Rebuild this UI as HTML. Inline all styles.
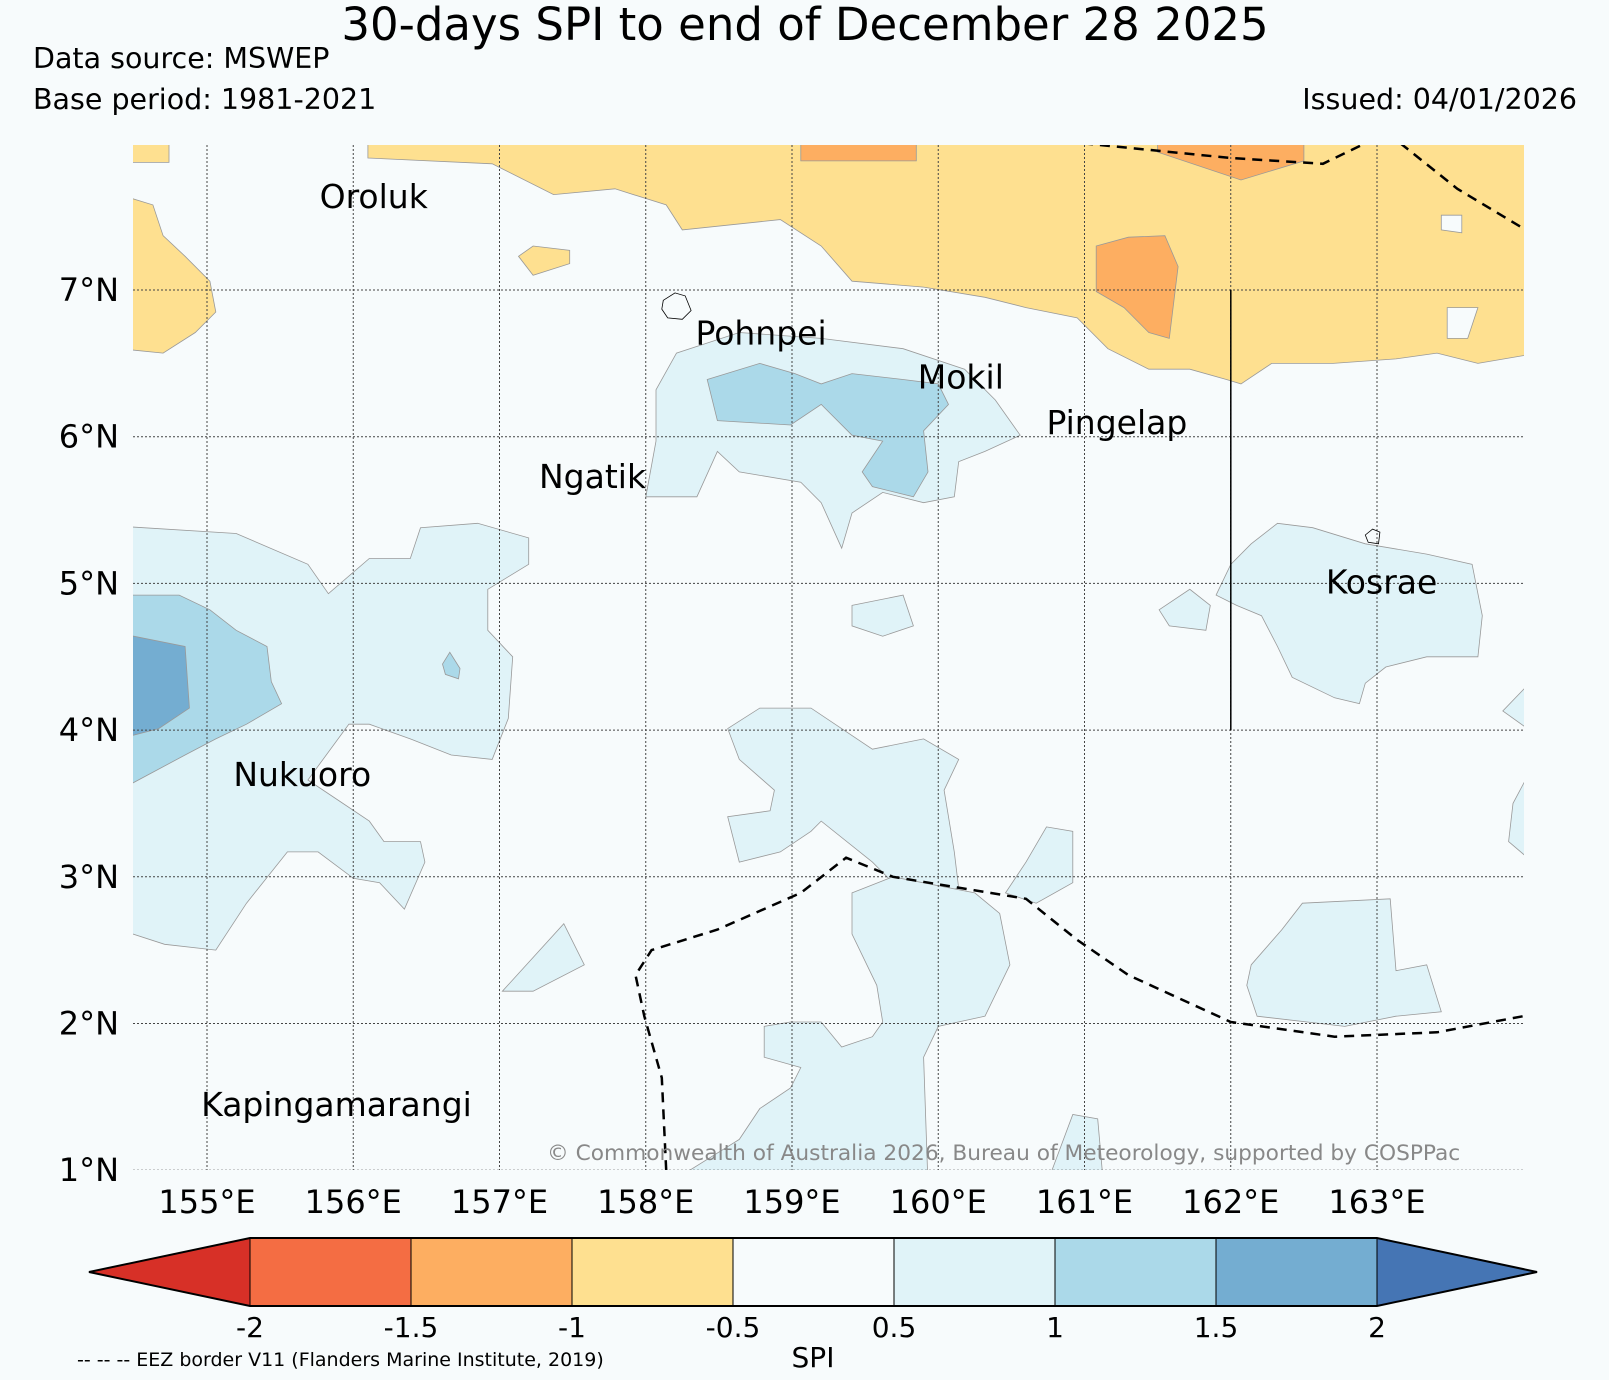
<!DOCTYPE html>
<html><head><meta charset="utf-8"><style>
body{margin:0;background:#f7fbfc;}
svg{display:block;font-family:"DejaVu Sans","Liberation Sans",sans-serif;}
</style></head><body>
<svg id="chart" width="1609" height="1380" viewBox="0 0 1609 1380" xmlns="http://www.w3.org/2000/svg">
<rect width="1609" height="1380" fill="#f7fbfc"/>
<text x="805" y="40" font-size="45" text-anchor="middle">30-days SPI to end of December 28 2025</text>
<text x="33" y="68" font-size="28.5">Data source: MSWEP</text>
<text x="33" y="109" font-size="28.5">Base period: 1981-2021</text>
<text x="1577" y="109" font-size="28.5" text-anchor="end">Issued: 04/01/2026</text>
<defs><clipPath id="mapclip"><rect x="133" y="145" width="1391" height="1025"/></clipPath></defs>
<g id="map" clip-path="url(#mapclip)"></g>
<g id="axes"></g>
<g id="cbar"></g>
<text x="547" y="1160" font-size="21.7" fill="#888">© Commonwealth of Australia 2026, Bureau of Meteorology, supported by COSPPac</text>
<text x="813" y="1367" font-size="28" text-anchor="middle">SPI</text>
<text x="77" y="1366" font-size="19">-- -- -- EEZ border V11 (Flanders Marine Institute, 2019)</text>
</svg>
<script>
const lonTicks=[155,156,157,158,159,160,161,162,163];
const latTicks=[1,2,3,4,5,6,7];
const levels=[-2,-1.5,-1,-0.5,0.5,1,1.5,2];
const levelLabels=["-2","-1.5","-1","-0.5","0.5","1","1.5","2"];
const levelColors=["#d73027","#f46d43","#fdae61","#fee090","#f7fbfc","#e0f3f8","#abd9e9","#74add1","#4575b4"];

const yellowMain=[[156.1,8],[156.1,7.9],[156.95,7.86],[157.37,7.65],[157.79,7.69],[158.14,7.58],[158.25,7.41],[158.92,7.48],[159.2,7.3],[159.41,7.06],[159.9,7.02],[160.32,6.95],[160.6,6.88],[160.95,6.81],[161.16,6.6],[161.44,6.46],[161.72,6.46],[161.97,6.39],[162.07,6.36],[162.28,6.5],[162.7,6.5],[163.13,6.53],[163.41,6.57],[163.69,6.5],[164.1,6.57],[164.1,8.1],[156.1,8.1]];
const yellowLeft=[[154.4,7.65],[154.63,7.58],[154.7,7.37],[154.85,7.23],[155.02,7.06],[155.06,6.85],[154.92,6.71],[154.7,6.57],[154.4,6.6]];
const yellowStrip=[[154.4,8.1],[154.74,8.1],[154.74,7.87],[154.4,7.87]];
const yellowSmall=[[157.13,7.23],[157.23,7.3],[157.48,7.27],[157.48,7.18],[157.23,7.1]];
const orangePatch=[[161.08,7.3],[161.3,7.36],[161.55,7.37],[161.64,7.16],[161.58,6.67],[161.44,6.71],[161.27,6.88],[161.08,6.99]];
const orangeTop1=[[159.06,8.1],[159.85,8.1],[159.85,7.88],[159.06,7.88]];
const orangeTop2=[[161.5,8.1],[162.5,8.1],[162.5,7.88],[162.07,7.75],[161.5,7.94]];
const hole1=[[163.44,7.51],[163.58,7.51],[163.58,7.39],[163.44,7.41]];
const hole2=[[163.48,6.88],[163.69,6.88],[163.62,6.67],[163.48,6.67]];
const pohnpeiLight=[[158.07,6.32],[158.21,6.57],[158.64,6.71],[159.2,6.67],[159.76,6.6],[160.18,6.46],[160.39,6.25],[160.56,6.01],[160.32,5.9],[160.14,5.83],[160.11,5.59],[159.9,5.55],[159.62,5.62],[159.41,5.48],[159.34,5.24],[159.2,5.55],[159.06,5.69],[158.64,5.76],[158.49,5.9],[158.35,5.59],[158.0,5.59],[158.07,5.97]];
const pohnpeiMed=[[158.42,6.39],[158.78,6.5],[159.02,6.43],[159.2,6.36],[159.41,6.43],[159.76,6.39],[160.0,6.36],[160.07,6.22],[159.9,6.04],[159.93,5.76],[159.83,5.59],[159.55,5.66],[159.48,5.76],[159.62,5.97],[159.41,6.01],[159.2,6.22],[158.99,6.08],[158.49,6.11]];
const leftLight=[[154.4,5.39],[155.2,5.34],[155.69,5.13],[155.83,4.93],[156.11,5.17],[156.39,5.17],[156.46,5.38],[156.85,5.41],[157.2,5.31],[157.2,5.13],[156.92,4.96],[156.92,4.68],[157.09,4.5],[157.06,4.08],[156.95,3.8],[156.67,3.83],[156.39,3.94],[156.11,4.04],[155.97,4.04],[155.69,3.66],[155.9,3.52],[156.11,3.38],[156.21,3.24],[156.46,3.24],[156.49,3.1],[156.35,2.78],[156.18,2.96],[156.0,2.99],[155.76,3.17],[155.55,3.17],[155.27,2.82],[155.06,2.5],[154.71,2.54],[154.4,2.64]];
const leftMed=[[154.4,4.92],[154.81,4.92],[155.02,4.82],[155.2,4.68],[155.41,4.57],[155.44,4.33],[155.51,4.18],[155.27,4.04],[155.06,3.94],[154.85,3.83],[154.4,3.59]];
const leftDark=[[154.4,4.66],[154.85,4.57],[154.88,4.15],[154.67,4.01],[154.4,3.94]];
const smallMed=[[156.61,4.45],[156.66,4.53],[156.73,4.42],[156.72,4.35],[156.63,4.38]];
const centralUpper=[[158.56,4.01],[158.78,4.15],[159.13,4.15],[159.55,3.87],[159.9,3.94],[160.14,3.8],[160.04,3.59],[160.11,3.17],[160.14,2.92],[159.76,2.89],[159.55,3.1],[159.2,3.38],[159.13,3.31],[158.92,3.17],[158.64,3.1],[158.56,3.41],[158.85,3.45],[158.88,3.59],[158.64,3.8]];
const centralLower=[[159.41,2.89],[159.69,3.0],[160.25,2.89],[160.42,2.75],[160.49,2.4],[160.32,2.05],[160.0,1.98],[159.9,1.77],[159.93,0.9],[158.14,0.9],[158.64,1.21],[158.78,1.42],[158.99,1.56],[159.06,1.7],[158.81,1.77],[158.81,1.98],[158.99,2.01],[159.2,2.01],[159.34,1.84],[159.55,1.91],[159.62,2.01],[159.58,2.26],[159.41,2.61]];
const rightSmall=[[160.46,2.89],[160.6,3.1],[160.74,3.34],[160.92,3.31],[160.92,2.96],[160.67,2.82]];
const kosrae=[[161.9,4.92],[162,5.13],[162.14,5.27],[162.32,5.41],[162.56,5.38],[162.92,5.27],[163.34,5.2],[163.65,5.13],[163.72,4.78],[163.69,4.5],[163.34,4.5],[163.06,4.43],[162.92,4.32],[162.88,4.18],[162.71,4.22],[162.42,4.36],[162.32,4.57],[162.21,4.78],[162.04,4.85]];
const kosraeWest=[[161.51,4.82],[161.72,4.96],[161.86,4.85],[161.83,4.68],[161.58,4.71]];
const lowerRight=[[162.14,2.4],[162.35,2.64],[162.49,2.82],[163.09,2.85],[163.13,2.36],[163.34,2.4],[163.44,2.08],[163.13,2.05],[162.78,1.98],[162.18,2.05],[162.11,2.26]];
const edge1=[[164.1,4.38],[163.86,4.13],[164.1,3.96]];
const edge2=[[164.1,3.82],[163.93,3.5],[163.9,3.24],[164.1,3.07]];
const midSmall=[[159.41,4.85],[159.76,4.92],[159.83,4.71],[159.62,4.64],[159.41,4.71]];
const bitA=[[157.02,2.22],[157.44,2.68],[157.58,2.4],[157.23,2.22]];
const bitB=[[160.74,0.9],[160.92,1.38],[161.09,1.35],[161.13,0.9]];
const eezTop1=[[160.99,8],[162,7.9],[162.63,7.86],[162.92,8]];
const eezTop2=[[163.16,8],[163.55,7.69],[164,7.42]];
const eezBottom=[[158.14,1],[158.11,1.63],[157.99,2.05],[157.93,2.33],[158.04,2.5],[158.49,2.64],[159.06,2.89],[159.37,3.13],[159.69,3.0],[160.6,2.85],[160.95,2.57],[161.3,2.33],[162,2.01],[162.71,1.91],[163.41,1.94],[164,2.05]];
const boundaryLine=[[162,7],[162,4]];
const islands=[["Oroluk",155.77,7.56],["Pohnpei",158.34,6.63],["Mokil",159.86,6.33],["Pingelap",160.74,6.02],["Ngatik",157.27,5.65],["Kosrae",162.65,4.93],["Nukuoro",155.18,3.62],["Kapingamarangi",154.96,1.37]];
const pohnpeiIsland=[[158.12,6.93],[158.2,6.98],[158.27,6.96],[158.31,6.86],[158.25,6.8],[158.15,6.81],[158.11,6.87]];
const kosraeIsland=[[162.92,5.33],[162.97,5.37],[163.02,5.35],[163.01,5.27],[162.94,5.28]];

const NS="http://www.w3.org/2000/svg";
function xs(lon){return 207+(lon-155)*146.25;}
function ys(lat){return 290+(7-lat)*146.7;}
function pts(arr){return arr.map(p=>xs(p[0]).toFixed(1)+","+ys(p[1]).toFixed(1)).join(" ");}
const map=document.getElementById("map");
function poly(arr,fill,name,stroke){
  const e=document.createElementNS(NS,"polygon");
  e.setAttribute("points",pts(arr));
  e.setAttribute("fill",fill);
  e.setAttribute("stroke",stroke||"#999");
  e.setAttribute("stroke-width","0.8");
  
  
  map.appendChild(e);
}
function line(arr,dash,name,w){
  const e=document.createElementNS(NS,"polyline");
  e.setAttribute("points",pts(arr));
  e.setAttribute("fill","none");
  e.setAttribute("stroke","#000");
  e.setAttribute("stroke-width",w||"2.5");
  if(dash)e.setAttribute("stroke-dasharray",dash);
  
  
  map.appendChild(e);
}
const Y=levelColors[3],O=levelColors[2],L=levelColors[5],M=levelColors[6],D=levelColors[7],W=levelColors[4];
poly(yellowMain,Y,"dry-region-north");
poly(yellowLeft,Y,"dry-region-west");
poly(yellowStrip,Y,"dry-strip");
poly(yellowSmall,Y,"dry-patch-small");
poly(orangePatch,O,"very-dry-patch");
poly(orangeTop1,O,"very-dry-top-1");
poly(orangeTop2,O,"very-dry-top-2");
poly(hole1,W,"neutral-hole-1");
poly(hole2,W,"neutral-hole-2");
poly(pohnpeiLight,L,"wet-region-pohnpei");
poly(pohnpeiMed,M,"moderate-wet-pohnpei");
poly(leftLight,L,"wet-region-west");
poly(leftMed,M,"moderate-wet-west");
poly(leftDark,D,"very-wet-west");
poly(smallMed,M,"moderate-wet-small");
poly(centralUpper,L,"wet-region-central-upper");
poly(centralLower,L,"wet-region-central-lower");
poly(rightSmall,L,"wet-region-east-small");
poly(kosrae,L,"wet-region-kosrae");
poly(kosraeWest,L,"wet-patch-kosrae-west");
poly(lowerRight,L,"wet-region-southeast");
poly(edge1,L,"wet-edge-1");
poly(edge2,L,"wet-edge-2");
poly(midSmall,L,"wet-patch-mid");
poly(bitA,L,"wet-bit-a");
poly(bitB,L,"wet-bit-b");
lonTicks.forEach(v=>{
  const e=document.createElementNS(NS,"line");
  e.setAttribute("x1",xs(v));e.setAttribute("x2",xs(v));e.setAttribute("y1",145);e.setAttribute("y2",1170);
  e.setAttribute("stroke","#444");e.setAttribute("stroke-width","1");e.setAttribute("stroke-dasharray","2,2");
  
  
  map.appendChild(e);
});
latTicks.forEach(v=>{
  const e=document.createElementNS(NS,"line");
  e.setAttribute("x1",133);e.setAttribute("x2",1524);e.setAttribute("y1",ys(v));e.setAttribute("y2",ys(v));
  e.setAttribute("stroke","#444");e.setAttribute("stroke-width","1");e.setAttribute("stroke-dasharray","2,2");
  
  
  map.appendChild(e);
});
line(eezTop1,"10,7","eez-border-north-1");
line(eezTop2,"10,7","eez-border-north-2");
line(eezBottom,"10,7","eez-border-south");
line(boundaryLine,null,"boundary-line",1.5);
poly(pohnpeiIsland,"none","pohnpei-island","#000");
poly(kosraeIsland,"none","kosrae-island","#000");
islands.forEach(d=>{
  const t=document.createElementNS(NS,"text");
  t.setAttribute("x",xs(d[1]));t.setAttribute("y",ys(d[2]));
  t.setAttribute("font-size","33");
  t.textContent=d[0];
  
  
  map.appendChild(t);
});
const axes=document.getElementById("axes");
lonTicks.forEach(v=>{
  const t=document.createElementNS(NS,"text");
  t.setAttribute("x",xs(v));t.setAttribute("y",1213);t.setAttribute("font-size","32");t.setAttribute("text-anchor","middle");
  t.textContent=v+"°E";
  
  
  axes.appendChild(t);
});
latTicks.forEach(v=>{
  const t=document.createElementNS(NS,"text");
  t.setAttribute("x",119);t.setAttribute("y",ys(v)+11);t.setAttribute("font-size","32");t.setAttribute("text-anchor","end");
  t.textContent=v+"°N";
  
  
  axes.appendChild(t);
});
const cb=document.getElementById("cbar");
const cx0=250,cx1=1377,cy0=1238,cy1=1306,tipL=89,tipR=1537;
function cbx(i){return cx0+i/(levels.length-1)*(cx1-cx0);}
function cbEl(tag,attrs,name){
  const e=document.createElementNS(NS,tag);
  for(const k in attrs)e.setAttribute(k,attrs[k]);
  
  
  cb.appendChild(e);return e;
}
cbEl("polygon",{points:`${tipL},${(cy0+cy1)/2} ${cx0},${cy0} ${cx0},${cy1}`,fill:levelColors[0],stroke:"#000","stroke-width":1},"colorbar-extend-low");
for(let i=0;i<levels.length-1;i++){
  const a=cbx(i),b=cbx(i+1);
  cbEl("rect",{x:a,y:cy0,width:b-a,height:cy1-cy0,fill:levelColors[i+1],stroke:"#000","stroke-width":1},"colorbar-bin");
}
cbEl("polygon",{points:`${tipR},${(cy0+cy1)/2} ${cx1},${cy0} ${cx1},${cy1}`,fill:levelColors[8],stroke:"#000","stroke-width":1},"colorbar-extend-high");
cbEl("polygon",{points:`${tipL},${(cy0+cy1)/2} ${cx0},${cy0} ${cx1},${cy0} ${tipR},${(cy0+cy1)/2} ${cx1},${cy1} ${cx0},${cy1}`,fill:"none",stroke:"#000","stroke-width":2},"colorbar-outline");
levels.forEach((v,i)=>{
  const t=cbEl("text",{x:cbx(i),y:1337,"font-size":28,"text-anchor":"middle"},"colorbar-tick-label");
  t.textContent=levelLabels[i];
});
</script>
</body></html>
